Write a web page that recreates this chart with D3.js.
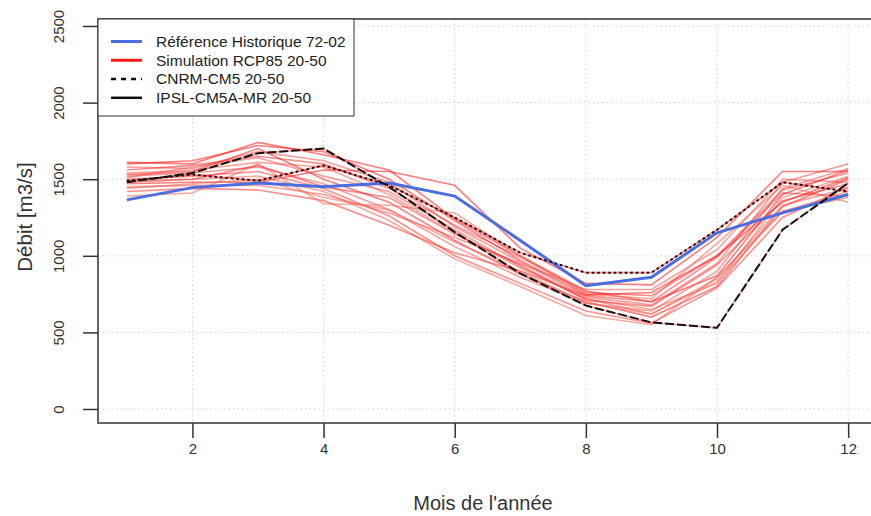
<!DOCTYPE html>
<html>
<head>
<meta charset="utf-8">
<script src="https://cdn.jsdelivr.net/npm/d3@7"></script>
<style>
body{margin:0;background:#fff;}
text{font-family:"Liberation Sans",Arial,sans-serif;}
</style>
</head>
<body>
<div id="chart"></div>
<script>
var months = [1,2,3,4,5,6,7,8,9,10,11,12];
var xTicks = [2,4,6,8,10,12];
var yTicks = [0,500,1000,1500,2000,2500];

var reference = [1365,1445,1475,1450,1475,1390,1100,805,860,1150,1280,1400];
var cnrm = [1490,1530,1490,1590,1460,1250,1020,890,890,1170,1480,1420];
var ipsl = [1480,1540,1670,1700,1450,1155,885,675,565,530,1170,1475];

var simulations = [
 [1610,1600,1740,1660,1560,1240,1000,770,700,870,1400,1560],
 [1580,1570,1680,1620,1480,1190,960,730,680,950,1480,1600],
 [1560,1590,1650,1600,1440,1200,990,760,740,1000,1430,1540],
 [1540,1560,1610,1580,1400,1150,920,720,650,820,1380,1520],
 [1530,1550,1700,1500,1350,1100,880,700,600,800,1320,1500],
 [1520,1540,1580,1470,1300,1060,860,690,640,900,1440,1570],
 [1500,1520,1550,1440,1260,1000,820,640,560,790,1250,1450],
 [1490,1500,1520,1420,1230,980,800,610,550,860,1290,1420],
 [1470,1480,1480,1560,1550,1460,1050,820,810,1120,1550,1550],
 [1450,1460,1460,1400,1280,1120,950,780,780,1040,1500,1480],
 [1420,1440,1430,1360,1200,1020,900,740,700,990,1410,1390],
 [1390,1410,1600,1340,1330,1280,1000,750,720,1080,1460,1350],
 [1600,1620,1720,1680,1500,1230,970,745,760,1000,1350,1510],
 [1510,1580,1640,1520,1420,1170,930,720,620,850,1330,1440],
 [1480,1500,1590,1450,1380,1140,940,710,670,940,1360,1470],
 [1440,1470,1500,1380,1300,1090,900,690,620,830,1290,1380]
];
var simColors = ["rgba(255,20,20,0.55)","rgba(245,80,80,0.55)","rgba(255,30,30,0.5)","rgba(240,110,90,0.6)"];

var legendLabels = ["Référence Historique 72-02","Simulation RCP85 20-50","CNRM-CM5 20-50","IPSL-CM5A-MR 20-50"];

var w = 871, h = 516;
var svg = d3.select("#chart").append("svg").attr("width",w).attr("height",h);

var x = d3.scaleLinear().domain([0.56,12.44]).range([98,877]);
var y = d3.scaleLinear().domain([0,2500]).range([409,26]);
var frameTop = 19, frameBottom = 423;

// grid
svg.selectAll(".vg").data(xTicks).enter().append("line")
 .attr("x1",d=>x(d)).attr("x2",d=>x(d)).attr("y1",frameTop).attr("y2",frameBottom)
 .attr("stroke","#cfcfcf").attr("stroke-dasharray","1.5,3");
svg.selectAll(".hg").data(yTicks).enter().append("line")
 .attr("x1",98).attr("x2",w).attr("y1",d=>y(d)).attr("y2",d=>y(d))
 .attr("stroke","#cfcfcf").attr("stroke-dasharray","1.5,3");

var line = d3.line().x((d,i)=>x(months[i])).y(d=>y(d));

svg.selectAll(".sim").data(simulations.concat([cnrm,ipsl])).enter().append("path")
 .attr("d",line).attr("fill","none")
 .attr("stroke",(d,i)=>simColors[i%simColors.length]).attr("stroke-width",1.6);

svg.append("path").datum(reference).attr("d",line).attr("fill","none")
 .attr("stroke","#4a6ee0").attr("stroke-width",3);
svg.append("path").datum(cnrm).attr("d",line).attr("fill","none")
 .attr("stroke","#111").attr("stroke-width",2).attr("stroke-dasharray","2.5,3");
svg.append("path").datum(ipsl).attr("d",line).attr("fill","none")
 .attr("stroke","#111").attr("stroke-width",2).attr("stroke-dasharray","9,3");

// frame
svg.append("rect").attr("x",98).attr("y",frameTop).attr("width",785).attr("height",frameBottom-frameTop)
 .attr("fill","none").attr("stroke","#333").attr("stroke-width",1.5);

// axes
var yAxis = d3.axisLeft(y).tickValues(yTicks).tickSize(15).tickPadding(0).tickFormat(d3.format("d"));
var gy = svg.append("g").attr("transform","translate(98,0)").call(yAxis);
gy.select(".domain").remove();
gy.selectAll(".tick line").attr("stroke","#333").attr("stroke-width",1.5);
gy.selectAll(".tick text").attr("transform","rotate(-90)").attr("x",0).attr("y",-39)
 .attr("dy","0.35em").attr("text-anchor","middle").attr("font-size",15).attr("fill","#333")
 .attr("font-family","Liberation Sans, Arial, sans-serif");

var xAxis = d3.axisBottom(x).tickValues(xTicks).tickSize(15).tickPadding(0);
var gx = svg.append("g").attr("transform","translate(0,"+frameBottom+")").call(xAxis);
gx.select(".domain").remove();
gx.selectAll(".tick line").attr("stroke","#333").attr("stroke-width",1.5);
gx.selectAll(".tick text").attr("y",26).attr("dy","0.35em").attr("font-size",15).attr("fill","#333")
 .attr("font-family","Liberation Sans, Arial, sans-serif");

svg.append("text").attr("x",483).attr("y",503).attr("dy","0.35em").attr("text-anchor","middle")
 .attr("font-size",20).attr("fill","#333").text("Mois de l'année");
svg.append("text").attr("transform","translate(25,217) rotate(-90)").attr("dy","0.35em")
 .attr("text-anchor","middle").attr("font-size",20.5).attr("fill","#333").text("Débit [m3/s]");

// legend
var lg = svg.append("g");
lg.append("rect").attr("x",98).attr("y",19).attr("width",256).attr("height",97)
 .attr("fill","#fff").attr("stroke","#333").attr("stroke-width",1);
var legendStyles = [
 {c:"#4a6ee0",w:3,dash:null},
 {c:"#ff1a1a",w:3,dash:null},
 {c:"#111",w:2.5,dash:"5,5"},
 {c:"#111",w:2.5,dash:null}
];
var rowY = d3.scaleLinear().domain([0,3]).range([41.5,97.8]);
legendLabels.forEach(function(lab,i){
 var s = legendStyles[i];
 lg.append("line").attr("x1",111).attr("x2",142).attr("y1",rowY(i)).attr("y2",rowY(i))
  .attr("stroke",s.c).attr("stroke-width",s.w).attr("stroke-dasharray",s.dash);
 lg.append("text").attr("x",156).attr("y",rowY(i)).attr("dy","0.35em")
  .attr("font-size",15.5).attr("fill","#222").text(lab);
});
</script>
</body>
</html>
